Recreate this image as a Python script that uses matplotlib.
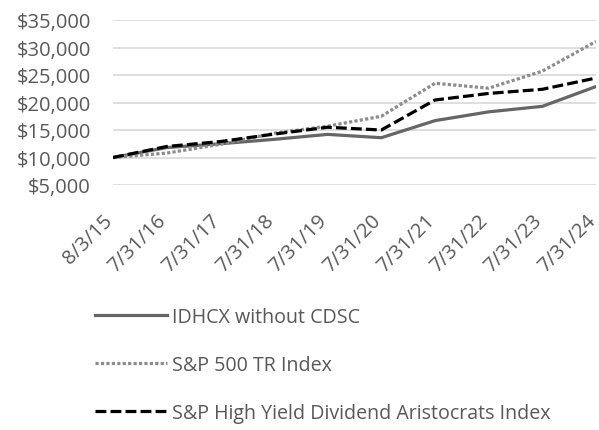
import matplotlib.pyplot as plt
from matplotlib.ticker import FuncFormatter

plt.rcParams['font.family'] = ['Open Sans', 'DejaVu Sans']

dates = ['8/3/15', '7/31/16', '7/31/17', '7/31/18', '7/31/19',
         '7/31/20', '7/31/21', '7/31/22', '7/31/23', '7/31/24']
idhcx = [10000, 11800, 12500, 13300, 14200, 13600, 16700, 18300, 19300, 22900]
sp500 = [10000, 10800, 12400, 14400, 15700, 17500, 23500, 22600, 25700, 31100]
aristocrats = [10000, 12000, 12900, 14250, 15500, 15000, 20450, 21650, 22400, 24450]

text_color = '#595959'
fs = 14.5

fig = plt.figure(figsize=(5.99, 4.31), dpi=100)
ax = fig.add_axes([113 / 599, 1 - 186 / 431, (596 - 113) / 599, (186 - 21) / 431])

x = list(range(len(dates)))
ax.plot(x, idhcx, color='#666666', lw=2.3, label='IDHCX without CDSC')
ax.plot(x, sp500, color='#8c8c8c', lw=2.3, linestyle=(0, (1, 0.7)), label='S&P 500 TR Index')
ax.plot(x, aristocrats, color='black', lw=2.3, linestyle=(0, (3.4, 1.3)),
        label='S&P High Yield Dividend Aristocrats Index')

ax.set_xlim(0, len(dates) - 1)
ax.set_ylim(5000, 35000)
ax.set_yticks(range(5000, 35001, 5000))
ax.yaxis.set_major_formatter(FuncFormatter(lambda v, p: f'${v:,.0f}'))
ax.set_xticks(x)
ax.set_xticklabels(dates, rotation=45, ha='right', va='baseline', rotation_mode='anchor')
ax.tick_params(axis='both', length=0, labelsize=fs, colors=text_color)
ax.tick_params(axis='x', pad=26)
ax.tick_params(axis='y', pad=16)
ax.grid(axis='y', color='#d9d9d9', lw=1.2)
ax.set_axisbelow(True)
for s in ax.spines.values():
    s.set_visible(False)

leg = fig.legend(loc='upper left', bbox_to_anchor=(77.5 / 599, 1 - 290 / 431), frameon=False,
                 handlelength=3.67, handletextpad=0.25, labelspacing=1.44, fontsize=14.1)
for t in leg.get_texts():
    t.set_color(text_color)

fig.savefig('out.png', dpi=100)
